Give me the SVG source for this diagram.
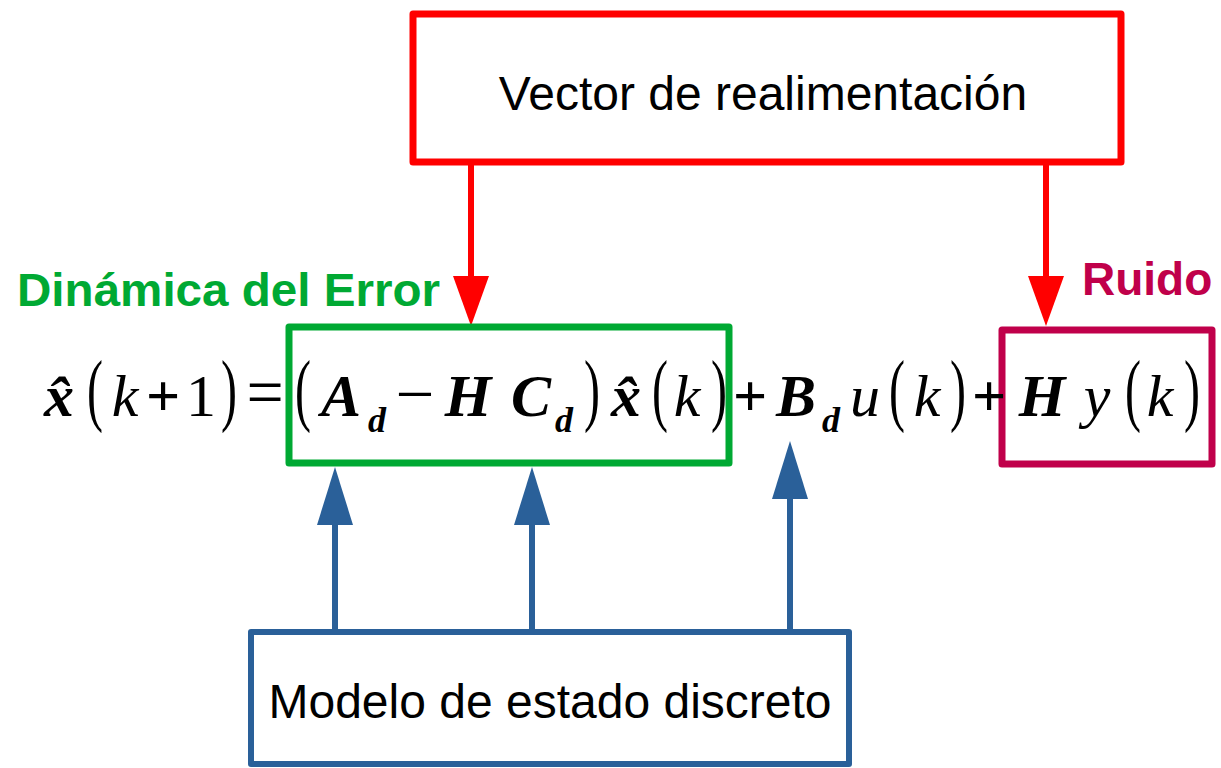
<svg xmlns="http://www.w3.org/2000/svg" width="1221" height="768" viewBox="0 0 1221 768">
<style>
.lbl{font-family:"Liberation Sans",Arial,sans-serif;font-size:48px;fill:#000}
.bl{font-family:"Liberation Sans",Arial,sans-serif;font-size:46px;font-weight:bold}
.m{font-family:"Liberation Serif","Times New Roman",serif;font-size:60px;fill:#000;text-anchor:middle}
.i{font-style:italic}
.b{font-weight:bold}
.s{font-size:36px}
.box{fill:none;stroke-linejoin:round}
</style>
<defs>
<marker id="ar" markerUnits="userSpaceOnUse" markerWidth="50" markerHeight="36" refX="0" refY="18" orient="auto">
<path d="M0,0 L50,18 L0,36 z" fill="#ff0000"/>
</marker>
<marker id="ab" markerUnits="userSpaceOnUse" markerWidth="58" markerHeight="36" refX="0" refY="18" orient="auto">
<path d="M0,0 L58,18 L0,36 z" fill="#2a6099"/>
</marker>
</defs>

<g id="connectors" stroke-width="6" fill="none">
<line x1="471" y1="162" x2="471" y2="276" stroke="#ff0000" marker-end="url(#ar)"/>
<line x1="1046" y1="162" x2="1046" y2="276" stroke="#ff0000" marker-end="url(#ar)"/>
<line x1="335" y1="630" x2="335" y2="525" stroke="#2a6099" marker-end="url(#ab)"/>
<line x1="532" y1="630" x2="532" y2="525" stroke="#2a6099" marker-end="url(#ab)"/>
<line x1="790" y1="630" x2="790" y2="499" stroke="#2a6099" marker-end="url(#ab)"/>
</g>

<g id="vector">
<rect class="box" x="413" y="14" width="708" height="148" stroke="#ff0000" stroke-width="7"/>
<text class="lbl" x="763" y="110" text-anchor="middle">Vector de realimentación</text>
</g>

<g id="dinamica">
<rect class="box" x="289" y="327" width="440" height="136" stroke="#00a933" stroke-width="7"/>
<text class="bl" x="17" y="306" fill="#00a933" textLength="423" lengthAdjust="spacingAndGlyphs">Dinámica del Error</text>
</g>

<g id="ruido">
<rect class="box" x="1002" y="330" width="210" height="134" stroke="#c0004a" stroke-width="7"/>
<text class="bl" x="1082" y="295" fill="#c0004a">Ruido</text>
</g>

<g id="modelo">
<rect class="box" x="251" y="632" width="598" height="132" stroke="#2a6099" stroke-width="6"/>
<text class="lbl" x="550" y="718" text-anchor="middle">Modelo de estado discreto</text>
</g>

<g id="equation">
<text class="m i b" x="59" y="416">x&#x302;</text>
<text class="m" transform="translate(95,416) scale(0.8,1.33)">(</text>
<text class="m i" x="125" y="416">k</text>
<text class="m b" x="163" y="416">+</text>
<text class="m" x="201" y="416">1</text>
<text class="m" transform="translate(229,416) scale(0.8,1.33)">)</text>
<text class="m" transform="translate(265,416) scale(1.1,1.15)">=</text>
<text class="m" transform="translate(303,416) scale(0.8,1.33)">(</text>
<text class="m i b" x="341" y="416">A</text>
<text class="m i b s" x="377" y="432">d</text>
<text class="m" transform="translate(415,416) scale(1.15,1.1)">−</text>
<text class="m i b" x="468" y="416">H</text>
<text class="m i b" x="531" y="416">C</text>
<text class="m i b s" x="564" y="432">d</text>
<text class="m" transform="translate(592,416) scale(0.8,1.33)">)</text>
<text class="m i b" x="626" y="416">x&#x302;</text>
<text class="m" transform="translate(660,416) scale(0.8,1.33)">(</text>
<text class="m i" x="687" y="416">k</text>
<text class="m" transform="translate(719,416) scale(0.8,1.33)">)</text>
<text class="m b" x="750" y="416">+</text>
<text class="m i b" x="796" y="416">B</text>
<text class="m i b s" x="831" y="432">d</text>
<text class="m i" x="865" y="416">u</text>
<text class="m" transform="translate(897,416) scale(0.8,1.33)">(</text>
<text class="m i" x="927" y="416">k</text>
<text class="m" transform="translate(958,416) scale(0.8,1.33)">)</text>
<text class="m b" x="989" y="416">+</text>
<text class="m i b" x="1042" y="416">H</text>
<text class="m i" x="1097" y="416">y</text>
<text class="m" transform="translate(1133,416) scale(0.8,1.33)">(</text>
<text class="m i" x="1160" y="416">k</text>
<text class="m" transform="translate(1192,416) scale(0.8,1.33)">)</text>
</g>
</svg>
